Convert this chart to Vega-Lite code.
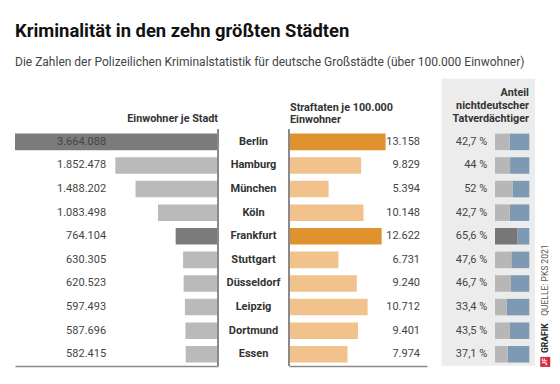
{
  "$schema": "https://vega.github.io/schema/vega-lite/v6.json",
  "padding": {"left": 15, "right": 0, "top": 22, "bottom": 17},
  "spacing": 0,
  "bounds": "flush",
  "title": {
    "text": "Kriminalität in den zehn größten Städten",
    "subtitle": "Die Zahlen der Polizeilichen Kriminalstatistik für deutsche Großstädte (über 100.000 Einwohner)",
    "anchor": "start",
    "font": "Roboto",
    "fontSize": 18.4,
    "fontWeight": "bold",
    "color": "#111111",
    "subtitleFont": "Roboto",
    "subtitleFontSize": 12,
    "subtitleColor": "#444444",
    "subtitlePadding": 16,
    "offset": 11
  },
  "datasets": {
    "staedte": [
      {"city": "Berlin", "pop": 3664088, "crime": 13158, "share": 42.7},
      {"city": "Hamburg", "pop": 1852478, "crime": 9829, "share": 44},
      {"city": "München", "pop": 1488202, "crime": 5394, "share": 52},
      {"city": "Köln", "pop": 1083498, "crime": 10148, "share": 42.7},
      {"city": "Frankfurt", "pop": 764104, "crime": 12622, "share": 65.6},
      {"city": "Stuttgart", "pop": 630305, "crime": 6731, "share": 47.6},
      {"city": "Düsseldorf", "pop": 620523, "crime": 9240, "share": 46.7},
      {"city": "Leipzig", "pop": 597493, "crime": 10712, "share": 33.4},
      {"city": "Dortmund", "pop": 587696, "crime": 9401, "share": 43.5},
      {"city": "Essen", "pop": 582415, "crime": 7974, "share": 37.1}
    ]
  },
  "config": {
    "locale": {"number": {"decimal": ",", "thousands": ".", "grouping": [3], "currency": ["", " €"]}},
    "view": {"stroke": null},
    "font": "Roboto"
  },
  "hconcat": [
    {
      "width": 203,
      "height": 287,
      "data": {"name": "staedte"},
      "layer": [
        {
          "mark": {"type": "bar"},
          "encoding": {
            "y": {"field": "city", "type": "nominal", "axis": null,
              "scale": {"type": "band", "domain": ["hdr", "Berlin", "Hamburg", "München", "Köln", "Frankfurt", "Stuttgart", "Düsseldorf", "Leipzig", "Dortmund", "Essen"], "paddingInner": 0.3, "paddingOuter": 0.73, "align": 0.9}},
            "x": {"field": "pop", "type": "quantitative",
              "scale": {"domain": [0, 3664088], "reverse": true, "nice": false},
              "axis": {"domain": true, "domainColor": "#8a8a8a", "domainWidth": 1.5, "labels": false, "ticks": false, "grid": false, "title": null}},
            "color": {"condition": {"test": "datum.city === 'Berlin' || datum.city === 'Frankfurt'", "value": "#7b7b7b"}, "value": "#bababa"}
          }
        },
        {
          "mark": {"type": "text", "align": "right", "baseline": "middle", "fontSize": 11, "color": "#444444"},
          "encoding": {
            "y": {"field": "city", "type": "nominal"},
            "x": {"datum": 2020000, "type": "quantitative"},
            "text": {"field": "pop", "type": "quantitative", "format": ",d"}
          }
        },
        {
          "mark": {"type": "rule", "color": "#8a8a8a", "strokeWidth": 1.2},
          "encoding": {
            "x": {"datum": 0, "type": "quantitative"},
            "y": {"datum": "Berlin", "type": "nominal", "bandPosition": -0.25},
            "y2": {"datum": "Essen", "bandPosition": 1.2}
          }
        },
        {
          "data": {"values": [{"h": "Einwohner je Stadt"}]},
          "mark": {"type": "text", "align": "right", "baseline": "alphabetic", "fontSize": 10.8, "fontWeight": "bold", "color": "#333333"},
          "encoding": {
            "x": {"datum": 0, "type": "quantitative"},
            "y": {"datum": "hdr", "type": "nominal", "bandPosition": 0.72},
            "text": {"field": "h"}
          }
        }
      ]
    },
    {
      "width": 71,
      "height": 287,
      "data": {"name": "staedte"},
      "mark": {"type": "text", "fontWeight": "bold", "fontSize": 11, "color": "#333333", "align": "center", "baseline": "middle"},
      "encoding": {
        "y": {"field": "city", "type": "nominal", "axis": null,
          "scale": {"type": "band", "domain": ["hdr", "Berlin", "Hamburg", "München", "Köln", "Frankfurt", "Stuttgart", "Düsseldorf", "Leipzig", "Dortmund", "Essen"], "paddingInner": 0.3, "paddingOuter": 0.73, "align": 0.9}},
        "text": {"field": "city"}
      }
    },
    {
      "width": 138,
      "height": 287,
      "data": {"name": "staedte"},
      "layer": [
        {
          "mark": {"type": "bar"},
          "encoding": {
            "y": {"field": "city", "type": "nominal", "axis": null,
              "scale": {"type": "band", "domain": ["hdr", "Berlin", "Hamburg", "München", "Köln", "Frankfurt", "Stuttgart", "Düsseldorf", "Leipzig", "Dortmund", "Essen"], "paddingInner": 0.3, "paddingOuter": 0.73, "align": 0.9}},
            "x": {"field": "crime", "type": "quantitative",
              "scale": {"domain": [0, 18800], "nice": false},
              "axis": {"domain": true, "domainColor": "#8a8a8a", "domainWidth": 1.5, "labels": false, "ticks": false, "grid": false, "title": null}},
            "color": {"condition": {"test": "datum.city === 'Berlin' || datum.city === 'Frankfurt'", "value": "#e0922e"}, "value": "#f2c28d"}
          }
        },
        {
          "mark": {"type": "text", "align": "right", "baseline": "middle", "fontSize": 11, "color": "#444444"},
          "encoding": {
            "y": {"field": "city", "type": "nominal"},
            "x": {"datum": 17850, "type": "quantitative"},
            "text": {"field": "crime", "type": "quantitative", "format": ",d"}
          }
        },
        {
          "mark": {"type": "rule", "color": "#8a8a8a", "strokeWidth": 1.2},
          "encoding": {
            "x": {"datum": 0, "type": "quantitative"},
            "y": {"datum": "Berlin", "type": "nominal", "bandPosition": -0.25},
            "y2": {"datum": "Essen", "bandPosition": 1.2}
          }
        },
        {
          "data": {"values": [{"h": "Straftaten je 100.000\nEinwohner"}]},
          "mark": {"type": "text", "align": "left", "baseline": "alphabetic", "fontSize": 10.8, "fontWeight": "bold", "color": "#333333", "lineBreak": "\n", "lineHeight": 12, "dx": 1},
          "encoding": {
            "x": {"datum": 0, "type": "quantitative"},
            "y": {"datum": "hdr", "type": "nominal", "bandPosition": 0.05},
            "text": {"field": "h"}
          }
        }
      ]
    },
    {
      "width": 133,
      "height": 287,
      "layer": [
        {
          "data": {"values": [{"box": "Anteil"}]},
          "mark": {"type": "rect", "color": "#ececec"},
          "encoding": {
            "x": {"datum": -156, "type": "quantitative",
              "scale": {"domain": [-198.3, 189.5], "nice": false, "zero": false}, "axis": null},
            "x2": {"datum": 116.6},
            "y": {"datum": "hdr", "type": "nominal", "bandPosition": -1.89,
              "scale": {"type": "band", "domain": ["hdr", "Berlin", "Hamburg", "München", "Köln", "Frankfurt", "Stuttgart", "Düsseldorf", "Leipzig", "Dortmund", "Essen"], "paddingInner": 0.3, "paddingOuter": 0.73, "align": 0.9}, "axis": null},
            "y2": {"datum": "Essen", "bandPosition": 1.2}
          }
        },
        {
          "data": {"name": "staedte"},
          "mark": {"type": "bar", "color": "#7d99b3"},
          "encoding": {
            "y": {"field": "city", "type": "nominal"},
            "x": {"field": "share", "type": "quantitative"},
            "x2": {"datum": 100}
          }
        },
        {
          "data": {"name": "staedte"},
          "mark": {"type": "bar"},
          "encoding": {
            "y": {"field": "city", "type": "nominal"},
            "x": {"field": "share", "type": "quantitative"},
            "x2": {"datum": 0},
            "color": {"condition": {"test": "datum.city === 'Frankfurt'", "value": "#777777"}, "value": "#b7b7b7"}
          }
        },
        {
          "data": {"name": "staedte"},
          "transform": [{"calculate": "format(datum.share, '.1~f') + ' %'", "as": "label"}],
          "mark": {"type": "text", "align": "right", "baseline": "middle", "fontSize": 11, "color": "#444444"},
          "encoding": {
            "y": {"field": "city", "type": "nominal"},
            "x": {"datum": -22.4, "type": "quantitative"},
            "text": {"field": "label"}
          }
        },
        {
          "data": {"values": [{"h": "Anteil\nnichtdeutscher\nTatverdächtiger"}]},
          "mark": {"type": "text", "align": "right", "baseline": "alphabetic", "fontSize": 10.8, "fontWeight": "bold", "color": "#333333", "lineBreak": "\n", "lineHeight": 13},
          "encoding": {
            "x": {"datum": 99, "type": "quantitative"},
            "y": {"datum": "hdr", "type": "nominal", "bandPosition": -0.86},
            "text": {"field": "h"}
          }
        },
        {
          "data": {"values": [{"t": "QUELLE: PKS 2021"}]},
          "mark": {"type": "text", "align": "left", "baseline": "middle", "angle": 270, "fontSize": 8.5, "color": "#555555"},
          "encoding": {
            "x": {"datum": 146.5, "type": "quantitative"},
            "y": {"datum": "Dortmund", "type": "nominal", "bandPosition": -0.4},
            "text": {"field": "t"}
          }
        },
        {
          "data": {"values": [{"t": "GRAFIK"}]},
          "mark": {"type": "text", "align": "left", "baseline": "middle", "angle": 270, "fontSize": 8.5, "fontWeight": "bold", "color": "#222222"},
          "encoding": {
            "x": {"datum": 146.5, "type": "quantitative"},
            "y": {"datum": "Essen", "type": "nominal", "bandPosition": 0.42},
            "text": {"field": "t"}
          }
        },
        {
          "data": {"values": [{"t": "JF"}]},
          "mark": {"type": "point", "shape": "square", "filled": true, "size": 100, "color": "#d42a3c", "opacity": 1},
          "encoding": {
            "x": {"datum": 146.5, "type": "quantitative"},
            "y": {"datum": "Essen", "type": "nominal", "bandPosition": 0.96}
          }
        },
        {
          "data": {"values": [{"t": "JF"}]},
          "mark": {"type": "text", "align": "center", "baseline": "middle", "angle": 270, "fontSize": 6.5, "fontWeight": "bold", "color": "#ffffff"},
          "encoding": {
            "x": {"datum": 146.5, "type": "quantitative"},
            "y": {"datum": "Essen", "type": "nominal", "bandPosition": 0.96},
            "text": {"field": "t"}
          }
        }
      ]
    }
  ]
}
